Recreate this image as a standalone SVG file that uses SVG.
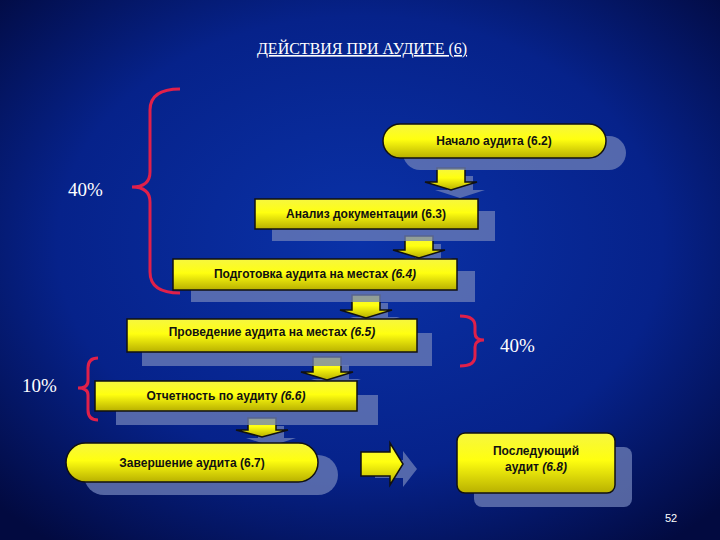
<svg xmlns="http://www.w3.org/2000/svg" width="720" height="540" viewBox="0 0 720 540">
<defs>
<radialGradient id="bg" cx="50%" cy="45%" r="70%"><stop offset="0" stop-color="#0a32a8"/><stop offset="0.6" stop-color="#06228a"/><stop offset="1" stop-color="#020a40"/></radialGradient>
<linearGradient id="yel" x1="0" y1="0" x2="0" y2="1"><stop offset="0" stop-color="#f6f640"/><stop offset="0.45" stop-color="#ffff10"/><stop offset="1" stop-color="#b8b000"/></linearGradient>
<style>
.n{fill:url(#yel);stroke:#111;stroke-width:1.5}
.sh{fill:#6f80b8;opacity:0.75}
.t{font-family:"Liberation Sans",Arial,sans-serif;font-size:12px;font-weight:bold;fill:#111;text-anchor:middle}
.w{font-family:"Liberation Serif","Times New Roman",serif;font-size:19px;fill:#fff}
.br{fill:none;stroke:#e0204a;stroke-width:3}
</style>
</defs>
<rect width="720" height="540" fill="url(#bg)"/>
<text x="362" y="54" text-anchor="middle" font-family="Liberation Serif,serif" font-size="16" fill="#fff" text-decoration="underline">ДЕЙСТВИЯ ПРИ АУДИТЕ (6)</text>
<g id="braces">
<path class="br" d="M180,89 Q150,89 150,110 L150,172 Q150,187 132,187 Q150,187 150,202 L150,272 Q150,293 180,293"/>
<text class="w" x="68" y="196">40%</text>
<path class="br" d="M460,316 Q475,316 475,326 L475,333 Q475,340 484,340 Q475,340 475,347 L475,356 Q475,366 460,366"/>
<text class="w" x="500" y="352">40%</text>
<path class="br" d="M98,358 Q88,358 88,368 L88,381 Q88,388 78,388 Q88,388 88,395 L88,410 Q88,420 98,420"/>
<text class="w" x="22" y="392">10%</text>
</g>
<g id="connectors">
<g class="sh"><path d="M447,176h26v14h12l-25,8l-25,-8h12z"/><path d="M415,244h26v14h12l-25,8l-25,-8h12z"/><path d="M362,303h26v14h12l-25,8l-25,-8h12z"/><path d="M323,365h26v14h12l-25,8l-25,-8h12z"/><path d="M258,426h26v12h12l-25,8l-25,-8h12z"/><path d="M375,460h28v-9l14,18l-14,18v-9h-28z"/></g>
<path class="n" d="M437,168h28v14h12l-26,8l-26,-8h12z"/>
<path class="n" d="M405,236h28v14h12l-26,8l-26,-8h12z"/>
<path class="n" d="M352,295h28v15h12l-26,8l-26,-8h12z"/>
<path class="n" d="M313,357h28v15h12l-26,8l-26,-8h12z"/>
<path class="n" d="M248,418h28v12h12l-26,7l-26,-7h12z"/>
<path class="n" d="M361,452h29v-9l13,21l-13,21v-9h-29z"/>
</g>
<g id="n1"><rect class="sh" x="403" y="136" width="223" height="34" rx="17"/><rect class="n" x="383" y="124" width="223" height="34" rx="17"/><text class="t" x="494" y="145">Начало аудита (6.2)</text></g>
<g id="n2"><rect class="sh" x="272" y="211" width="223" height="30"/><rect class="n" x="255" y="199" width="223" height="30"/><text class="t" x="366" y="218">Анализ документации (6.3)</text></g>
<g id="n3"><rect class="sh" x="191" y="271" width="284" height="31"/><rect class="n" x="173" y="259" width="284" height="31"/><text class="t" x="315" y="278">Подготовка аудита на местах <tspan font-style="italic">(6.4)</tspan></text></g>
<g id="n4"><rect class="sh" x="142" y="333" width="290" height="33"/><rect class="n" x="127" y="319" width="290" height="33"/><text class="t" x="272" y="336">Проведение аудита на местах <tspan font-style="italic">(6.5)</tspan></text></g>
<g id="n5"><rect class="sh" x="116" y="395" width="262" height="30"/><rect class="n" x="95" y="381" width="262" height="30"/><text class="t" x="226" y="400">Отчетность по аудиту <tspan font-style="italic">(6.6)</tspan></text></g>
<g id="n6"><rect class="sh" x="84" y="455" width="254" height="40" rx="20"/><rect class="n" x="66" y="443" width="252" height="39" rx="19.5"/><text class="t" x="192" y="467">Завершение аудита (6.7)</text></g>
<g id="n7"><rect class="sh" x="474" y="447" width="158" height="60" rx="8"/><rect class="n" x="457" y="433" width="158" height="60" rx="8"/><text class="t" x="536" y="455">Последующий</text><text class="t" x="536" y="471">аудит <tspan font-style="italic">(6.8)</tspan></text></g>
<text x="671" y="522" font-family="Liberation Sans,sans-serif" font-size="11" fill="#fff" text-anchor="middle">52</text>
</svg>
